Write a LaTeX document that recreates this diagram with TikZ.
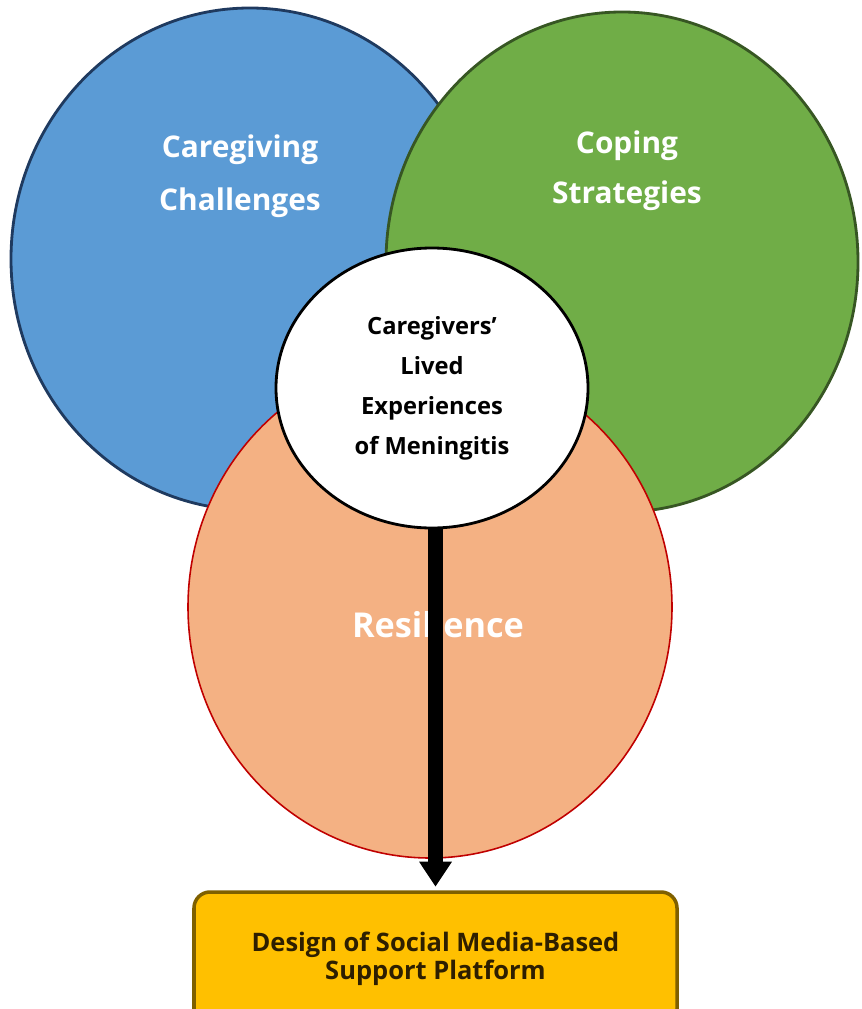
\documentclass[tikz,border=0pt]{standalone}
\usepackage{fontspec}
\setmainfont{Open Sans}
\usetikzlibrary{shapes.geometric,arrows.meta}

\definecolor{chalblue}{HTML}{5B9BD5}
\definecolor{challine}{HTML}{1F3A5F}
\definecolor{copegreen}{HTML}{70AD47}
\definecolor{copeline}{HTML}{375623}
\definecolor{resorange}{HTML}{F4B183}
\definecolor{resline}{HTML}{C00000}
\definecolor{platgold}{HTML}{FFC000}
\definecolor{platline}{HTML}{7F6000}
\definecolor{plattext}{HTML}{2E1F00}

\tikzset{
  theme/.style={text=white, align=center, font=\bfseries\fontsize{17}{30}\selectfont},
}

\begin{document}
\begin{tikzpicture}
		\useasboundingbox (0,0) rectangle (17.22,-20.18);
		% the three themes
		\filldraw[fill=chalblue, draw=challine, line width=1.6pt] (5.0,-5.18) ellipse (4.78cm and 5.02cm);
		\filldraw[fill=copegreen, draw=copeline, line width=1.6pt] (12.44,-5.24) ellipse (4.72cm and 5.0cm);
		\filldraw[fill=resorange, draw=resline, line width=0.9pt] (8.6,-12.14) ellipse (4.84cm and 5.02cm);
		\node[theme] (chal) at (4.8,-3.52) {Caregiving\\Challenges};
		\node[theme, font=\bfseries\fontsize{17}{28.5}\selectfont] (cope) at (12.54,-3.42) {Coping\\Strategies};
		\node[theme, font=\bfseries\fontsize{19.5}{24}\selectfont] (res) at (8.76,-12.5) {Resilience};
		% core of the model
		\node[ellipse, draw=black, fill=white, line width=1.6pt, minimum width=6.24cm, minimum height=5.6cm, inner sep=0pt,
			align=center, font=\bfseries\fontsize{13.5}{22.7}\selectfont] (exp) at (8.64,-7.76) {Caregivers’\\Lived\\Experiences\\of Meningitis};
		% outcome
		\node[draw=platline, fill=platgold, line width=2pt, rounded corners=0.32cm, minimum width=9.66cm, minimum height=2.66cm,
			align=center, text=plattext, font=\bfseries\fontsize{14.5}{16}\selectfont] (plat) at (8.71,-19.17) {Design of Social Media-Based\\Support Platform};
		\draw[line width=0.3cm, -{Triangle[width=0.62cm,length=0.5cm]}, shorten >=2pt] (exp.south -| plat.north) -- (plat.north);
	\end{tikzpicture}
\end{document}
